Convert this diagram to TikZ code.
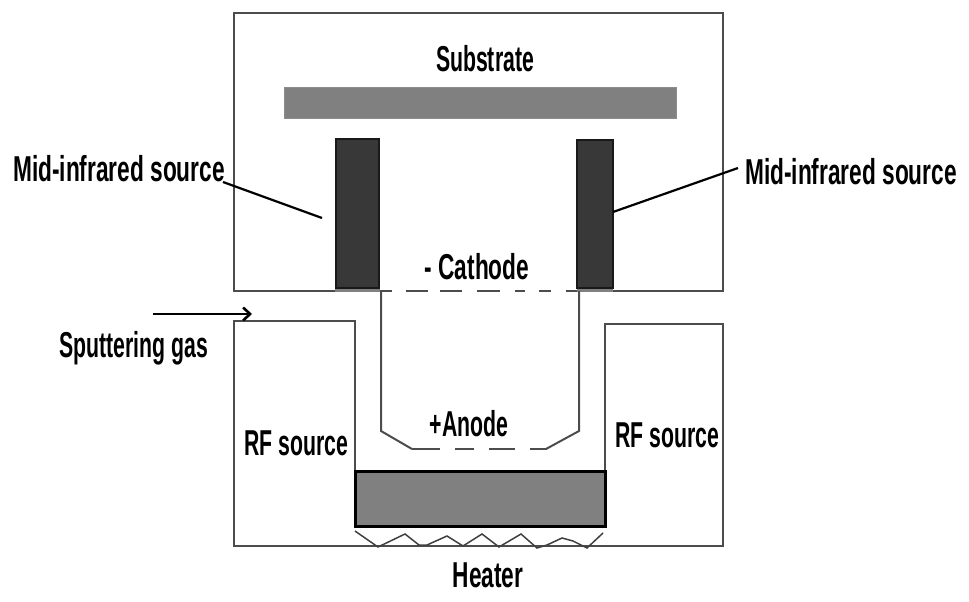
\documentclass[tikz,border=0pt]{standalone}
\usepackage{fontspec}
\newfontfamily\labelfont[FakeStretch=0.63]{Liberation Sans Bold}
\newfontfamily\narrowfont[FakeStretch=0.59]{Liberation Sans Bold}
\usetikzlibrary{arrows.meta}
\tikzset{
  wall/.style={draw=black!70,line width=2pt},
  label/.style={inner sep=0pt,font=\labelfont\fontsize{36}{36}\selectfont},
  narrowlabel/.style={inner sep=0pt,font=\narrowfont\fontsize{36}{36}\selectfont},
  source/.style={draw=black!90,line width=1.5pt,fill=black!78},
  leader/.style={draw=black,line width=2.2pt}
}
\begin{document}
\begin{tikzpicture}[x=1pt,y=-1pt]
        \useasboundingbox (0,0) rectangle (969,602);

        % komora nahore
        \draw[wall] (336,291) -- (234,291) -- (234,13) -- (723,13) -- (723,291) -- (613,291);
        % komora dole
        \draw[wall] (605,471) -- (605,324) -- (723,324) -- (723,546) -- (234,546)
        -- (234,321) -- (355,321) -- (355,471);

        % substrat
        \filldraw[draw=black!45,line width=1pt,fill=black!50] (284,87) rectangle (676,118);

        % zdroje
        \filldraw[source] (336,139) rectangle (379,288);
        \filldraw[source] (577,140) rectangle (613,288);
        \draw[draw=black!50,line width=3pt] (335,290) -- (380,290);
        \draw[draw=black!50,line width=3pt] (577,290) -- (613,290);

        % anoda
        \draw[wall] (381,291) -- (381,431) -- (412,449);
        \draw[wall] (579,291) -- (579,431) -- (546,449);
        \foreach \xa/\xb in {412/440,455/474,489/515,530/547}
            \draw[wall] (\xa,449) -- (\xb,449);

        % katoda
        \foreach \xa/\xb in {380/392,406/428,440/462,477/500,515/525,539/551,566/577}
            \draw[wall] (\xa,291) -- (\xb,291);

        % deska
        \filldraw[draw=black,line width=3pt,fill=black!50] (355,471) rectangle (605,526);

        % topeni
        \draw[draw=black!75,line width=1.5pt] (355,531) -- (378,547) -- (405,534) -- (419,545)
        -- (427,545) -- (447,536) -- (463,546) -- (482,534) -- (499,547) -- (521,534)
        -- (537,548) -- (547,545) -- (562,538) -- (573,541) -- (587,548) -- (603,533);

        % popisky
        \node[narrowlabel] (substrate) at (485,59) {Substrate};
        \node[label] (midleft) at (119,169) {Mid-infrared source};
        \node[label] (midright) at (851,172) {Mid-infrared source};
        \node[label] (cathode) at (477,267) {- Cathode};
        \node[narrowlabel] (anode) at (469,424) {+Anode};
        \node[narrowlabel] (gas) at (134,348) {Sputtering gas};
        \node[narrowlabel] (rfleft) at (296,443) {RF source};
        \node[narrowlabel] (rfright) at (667,435) {RF source};
        \node[label] (heater) at (488,575) {Heater};

        % sipky
        \coordinate (leftstart) at (223,182);
        \coordinate (leftend) at (322,218);
        \coordinate (rightstart) at (738,168);
        \coordinate (rightend) at (613,212);
        \coordinate (gasstart) at (153,314);
        \coordinate (gasend) at (252,314);
        \draw[leader] (leftstart) -- (leftend);
        \draw[leader] (rightstart) -- (rightend);
        \draw[leader,line width=2.6pt,-{Straight Barb[length=7pt,width=13pt]}] (gasstart) -- (gasend);
\end{tikzpicture}
\end{document}
